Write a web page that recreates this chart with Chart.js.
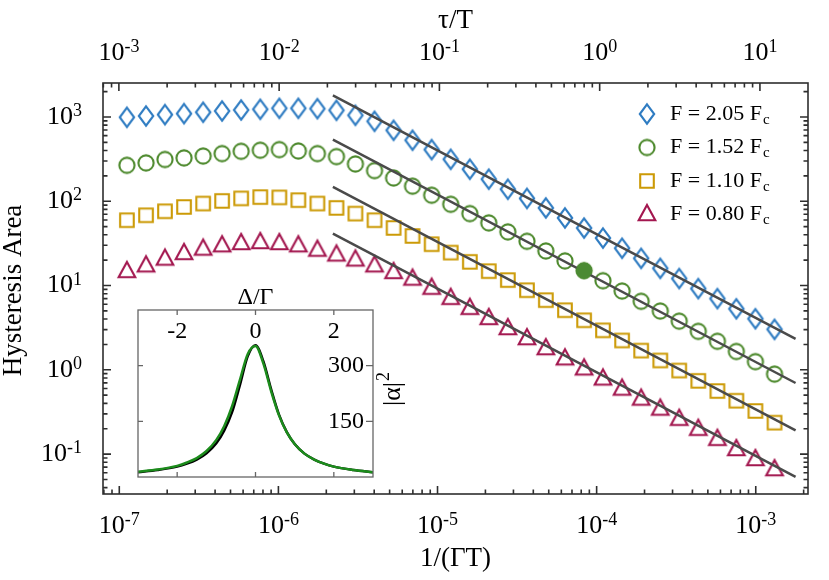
<!DOCTYPE html>
<html>
<head>
<meta charset="utf-8">
<title>Hysteresis area</title>
<script src="https://cdn.jsdelivr.net/npm/chart.js@4.4.0/dist/chart.umd.min.js"></script>
<style>
    html, body { margin: 0; padding: 0; background: #fff; }
    #wrap { position: relative; width: 829px; height: 580px; }
    #main { position: absolute; left: 0; top: 0; }
    #inset { position: absolute; left: 130px; top: 285px; }
</style>
</head>
<body>
<div id="wrap">
    <canvas id="main" width="829" height="580"></canvas>
    <canvas id="inset" width="280" height="205"></canvas>
</div>
<script>
// 1/(ΓT) sample points, shared by every series
const gammaT = [
    1.117e-7, 1.472e-7, 1.936e-7, 2.553e-7, 3.365e-7, 4.426e-7, 5.834e-7, 7.691e-7,
    1.014e-6, 1.334e-6, 1.758e-6, 2.317e-6, 3.048e-6, 4.018e-6, 5.297e-6, 6.966e-6,
    9.183e-6, 1.211e-5, 1.596e-5, 2.099e-5, 2.767e-5, 3.648e-5, 4.797e-5, 6.324e-5,
    8.337e-5, 1.096e-4, 1.445e-4, 1.905e-4, 2.512e-4, 3.304e-4, 4.355e-4, 5.741e-4,
    7.551e-4, 9.954e-4, 1.312e-3
];

// hysteresis area for each drive strength
const areaF205 = [
    991, 1028, 1067, 1096, 1138, 1178, 1211, 1233, 1268, 1268, 1256, 1200,
    1047, 889, 695, 530, 410, 315, 240, 183, 139, 108, 83.4, 63.4,
    48.1, 36.6, 27.7, 21.0, 16.0, 12.1, 9.2, 7.0, 5.3, 4.04, 3.02
];
const areaF152 = [
    267, 285, 313, 327, 344, 368, 392, 403, 410, 395, 368, 339,
    277, 231, 189, 151, 118, 92, 71.4, 55.3, 43.3, 33.5, 25.7, 19.6,
    15.0, 11.4, 8.6, 6.5, 4.98, 3.78, 2.86, 2.18, 1.65, 1.25, 0.89
];
const areaF110 = [
    59.6, 68.2, 76.0, 85.5, 94.0, 101, 108, 112, 111, 103, 94.0, 83.4,
    71.4, 59.6, 48.2, 38.7, 30.9, 24.6, 19.1, 14.8, 11.6, 8.8, 6.7, 5.09,
    3.87, 2.94, 2.23, 1.69, 1.29, 0.98, 0.74, 0.56, 0.43, 0.325, 0.236
];
const areaF080 = [
    14.9, 17.4, 20.9, 24.4, 27.5, 30.1, 32.0, 32.9, 32.0, 30.1, 26.7, 23.4,
    20.4, 17.4, 14.5, 12.1, 9.44, 7.16, 5.44, 4.13, 3.13, 2.38, 1.81, 1.37,
    1.04, 0.79, 0.60, 0.456, 0.347, 0.263, 0.200, 0.152, 0.115, 0.0875, 0.0664
];
const markedIndex = 24;   // filled point on the F = 1.52 Fc series

// power-law guide lines (end points)
const fitX = [2.2e-6, 1.78e-3];
const fitF205 = [1807, 2.33];
const fitF152 = [540, 0.697];
const fitF110 = [148, 0.191];
const fitF080 = [41.4, 0.0535];

const legendLabels = ['F = 2.05 F', 'F = 1.52 F', 'F = 1.10 F', 'F = 0.80 F'];

const xRange = [7.9e-8, 2.13e-3];
const tauRange = [7.96e-4, 19.95];
const yRange = [0.0336, 2530];

// inset: |α|² against Δ/Γ
const detuning = [-3, -2.5, -2, -1.75, -1.5, -1.25, -1, -0.8, -0.6, -0.4, -0.2, 0,
    0.2, 0.4, 0.6, 0.8, 1, 1.25, 1.5, 1.75, 2, 2.5, 3];
const alphaBlack = [13, 19, 28, 36, 47, 64, 91, 125, 174, 247, 325, 355,
    312, 236, 168, 121, 89, 63, 47, 36, 28, 19, 13];
const alphaGreen = [14, 20, 30, 39, 51, 70, 100, 137, 190, 261, 331, 353,
    306, 231, 166, 120, 89, 63, 47, 36, 28, 19, 13];
const insetXTicks = [-2, 0, 2];
const insetYTicks = [150, 300];

const SERIF = "'Liberation Serif', 'Times New Roman', serif";
const AXIS = '#2e2e2e';
const COLORS = ['#2f7cc2', '#4e8a2e', '#cc9a06', '#a3174f'];

function makeMarker(shape, color) {
    const c = document.createElement('canvas');
    c.width = 26;
    c.height = 26;
    const g = c.getContext('2d');
    g.strokeStyle = color;
    g.lineWidth = 2.1;
    g.lineJoin = 'miter';
    g.beginPath();
    if (shape === 'diamond') {
        g.moveTo(13, 3.3); g.lineTo(20.2, 13); g.lineTo(13, 22.7); g.lineTo(5.8, 13); g.closePath();
    } else if (shape === 'circle') {
        g.arc(13, 13, 7.6, 0, Math.PI * 2);
    } else if (shape === 'square') {
        g.rect(6.2, 6.2, 13.6, 13.6);
    } else {
        g.moveTo(13, 4); g.lineTo(21.3, 19.3); g.lineTo(4.7, 19.3); g.closePath();
    }
    g.stroke();
    return c;
}

const markers = [
    makeMarker('diamond', COLORS[0]),
    makeMarker('circle', COLORS[1]),
    makeMarker('square', COLORS[2]),
    makeMarker('triangle', COLORS[3])
];

function pairs(xs, ys) {
    return xs.map((x, i) => ({ x: x, y: ys[i] }));
}

function decadeTicks(min, max) {
    const out = [];
    for (let e = Math.floor(Math.log10(min)); e <= Math.ceil(Math.log10(max)); e++) {
        for (let m = 1; m <= 9; m++) {
            const v = m * Math.pow(10, e);
            if (v >= min && v <= max) out.push({ v: v, e: e, major: m === 1 });
        }
    }
    return out;
}

// "10" with a raised exponent
function powLabel(ctx, e, x, y, align) {
    ctx.font = '26px ' + SERIF;
    const wb = ctx.measureText('10').width;
    ctx.font = '18px ' + SERIF;
    const sup = String(e);
    const ws = ctx.measureText(sup).width;
    const left = align === 'right' ? x - wb - ws : x - (wb + ws) / 2;
    ctx.textAlign = 'left';
    ctx.textBaseline = 'middle';
    ctx.font = '26px ' + SERIF;
    ctx.fillText('10', left, y);
    ctx.font = '18px ' + SERIF;
    ctx.fillText(sup, left + wb, y - 5.5);
}

const mainDecor = {
    id: 'mainDecor',
    afterDraw(chart) {
        const ctx = chart.ctx;
        const a = chart.chartArea;
        const xs = chart.scales.x;
        const xt = chart.scales.x2;
        const ys = chart.scales.y;
        ctx.save();
        ctx.strokeStyle = AXIS;
        ctx.fillStyle = '#000';
        ctx.lineWidth = 1.6;
        ctx.strokeRect(a.left, a.top, a.right - a.left, a.bottom - a.top);

        ctx.beginPath();
        decadeTicks(xRange[0], xRange[1]).forEach(t => {
            const px = xs.getPixelForValue(t.v);
            const len = t.major ? 8 : 4.5;
            ctx.moveTo(px, a.bottom); ctx.lineTo(px, a.bottom - len);
        });
        decadeTicks(tauRange[0], tauRange[1]).forEach(t => {
            const px = xt.getPixelForValue(t.v);
            const len = t.major ? 8 : 4.5;
            ctx.moveTo(px, a.top); ctx.lineTo(px, a.top + len);
        });
        decadeTicks(yRange[0], yRange[1]).forEach(t => {
            const py = ys.getPixelForValue(t.v);
            const len = t.major ? 8 : 4.5;
            ctx.moveTo(a.left, py); ctx.lineTo(a.left + len, py);
            ctx.moveTo(a.right, py); ctx.lineTo(a.right - len, py);
        });
        ctx.stroke();

        // tick labels
        decadeTicks(xRange[0], xRange[1]).filter(t => t.major).forEach(t => {
            powLabel(ctx, t.e, xs.getPixelForValue(t.v), 526, 'center');
        });
        decadeTicks(tauRange[0], tauRange[1]).filter(t => t.major).forEach(t => {
            powLabel(ctx, t.e, xt.getPixelForValue(t.v), 53, 'center');
        });
        decadeTicks(yRange[0], yRange[1]).filter(t => t.major).forEach(t => {
            powLabel(ctx, t.e, 82, ys.getPixelForValue(t.v), 'right');
        });

        // axis titles
        ctx.font = '27px ' + SERIF;
        ctx.textAlign = 'center';
        ctx.textBaseline = 'middle';
        ctx.fillText('1/(ΓT)', (a.left + a.right) / 2, 559);
        ctx.fillText('τ/T', (a.left + a.right) / 2, 21);
        ctx.save();
        ctx.translate(21, (a.top + a.bottom) / 2 + 2);
        ctx.rotate(-Math.PI / 2);
        ctx.textBaseline = 'alphabetic';
        ctx.fillText('Hysteresis Area', 0, 0);
        ctx.restore();

        // legend
        const rowY = [114, 147.5, 181, 214];
        legendLabels.forEach((label, i) => {
            const m = markers[i];
            ctx.drawImage(m, 647 - m.width / 2, rowY[i] - m.height / 2);
            ctx.textAlign = 'left';
            ctx.textBaseline = 'middle';
            ctx.font = '22px ' + SERIF;
            ctx.fillText(label, 670, rowY[i]);
            const w = ctx.measureText(label).width;
            ctx.font = '15px ' + SERIF;
            ctx.fillText('c', 670 + w + 1, rowY[i] + 6);
        });
        ctx.restore();
    }
};

const seriesData = [areaF205, areaF152, areaF110, areaF080];
const fitData = [fitF205, fitF152, fitF110, fitF080];

const datasets = [];
datasets.push({
    label: 'marked',
    data: [{ x: gammaT[markedIndex], y: areaF152[markedIndex] }],
    showLine: false,
    pointStyle: 'circle',
    pointRadius: 7.6,
    pointBackgroundColor: '#4b8a33',
    pointBorderColor: '#4b8a33',
    order: -1
});
fitData.forEach(f => {
    datasets.push({
        data: pairs(fitX, f),
        showLine: true,
        borderColor: '#4a4a4a',
        borderWidth: 2.5,
        pointRadius: 0,
        order: 0
    });
});
seriesData.forEach((s, i) => {
    datasets.push({
        label: legendLabels[i],
        data: pairs(gammaT, s),
        showLine: false,
        pointStyle: markers[i],
        pointRadius: 8,
        order: 1
    });
});

new Chart(document.getElementById('main'), {
    type: 'scatter',
    data: { datasets: datasets },
    options: {
        responsive: false,
        animation: false,
        layout: { padding: { left: 103, top: 83, right: 21, bottom: 86 } },
        plugins: { legend: { display: false }, tooltip: { enabled: false } },
        scales: {
            x: { type: 'logarithmic', min: xRange[0], max: xRange[1], display: false },
            x2: { type: 'logarithmic', axis: 'x', position: 'top', min: tauRange[0], max: tauRange[1], display: false },
            y: { type: 'logarithmic', min: yRange[0], max: yRange[1], display: false }
        }
    },
    plugins: [mainDecor]
});

// ---- inset ----
const insetDecor = {
    id: 'insetDecor',
    beforeDatasetsDraw(chart) {
        const ctx = chart.ctx;
        const a = chart.chartArea;
        ctx.save();
        ctx.fillStyle = '#fff';
        ctx.fillRect(a.left, a.top, a.right - a.left, a.bottom - a.top);
        ctx.restore();
    },
    afterDraw(chart) {
        const ctx = chart.ctx;
        const a = chart.chartArea;
        const xs = chart.scales.x;
        const ys = chart.scales.y;
        ctx.save();
        ctx.strokeStyle = '#666';
        ctx.lineWidth = 1.3;
        ctx.strokeRect(a.left, a.top, a.right - a.left, a.bottom - a.top);
        ctx.beginPath();
        insetXTicks.forEach(v => {
            const px = xs.getPixelForValue(v);
            ctx.moveTo(px, a.bottom); ctx.lineTo(px, a.bottom - 5);
            ctx.moveTo(px, a.top); ctx.lineTo(px, a.top + 5);
        });
        insetYTicks.forEach(v => {
            const py = ys.getPixelForValue(v);
            ctx.moveTo(a.left, py); ctx.lineTo(a.left + 5, py);
            ctx.moveTo(a.right, py); ctx.lineTo(a.right - 7, py);
        });
        ctx.stroke();

        ctx.fillStyle = '#000';
        ctx.font = '24px ' + SERIF;
        ctx.textBaseline = 'middle';
        ctx.textAlign = 'center';
        insetXTicks.forEach(v => {
            ctx.fillText(String(v), xs.getPixelForValue(v), a.top + 22);
        });
        ctx.textAlign = 'right';
        insetYTicks.forEach(v => {
            ctx.fillText(String(v), a.right - 9, ys.getPixelForValue(v));
        });
        ctx.textAlign = 'center';
        ctx.fillText('Δ/Γ', xs.getPixelForValue(0), a.top - 12);

        // rotated |α| with a raised 2
        ctx.save();
        ctx.translate(a.right + 27, (a.top + a.bottom) / 2 - 4);
        ctx.rotate(-Math.PI / 2);
        ctx.textBaseline = 'alphabetic';
        ctx.textAlign = 'left';
        ctx.font = '26px ' + SERIF;
        const wa = ctx.measureText('|α|').width;
        ctx.font = '18px ' + SERIF;
        const w2 = ctx.measureText('2').width;
        const start = -(wa + w2) / 2;
        ctx.font = '26px ' + SERIF;
        ctx.fillText('|α|', start, 0);
        ctx.font = '18px ' + SERIF;
        ctx.fillText('2', start + wa + 1, -11);
        ctx.restore();
        ctx.restore();
    }
};

new Chart(document.getElementById('inset'), {
    type: 'scatter',
    data: {
        datasets: [
            {
                data: pairs(detuning, alphaGreen),
                showLine: true,
                borderColor: '#1c8c1c',
                borderWidth: 2.5,
                pointRadius: 0,
                cubicInterpolationMode: 'monotone'
            },
            {
                data: pairs(detuning, alphaBlack),
                showLine: true,
                borderColor: '#000000',
                borderWidth: 2.5,
                pointRadius: 0,
                cubicInterpolationMode: 'monotone'
            }
        ]
    },
    options: {
        responsive: false,
        animation: false,
        layout: { padding: { left: 8, top: 25, right: 37, bottom: 13 } },
        plugins: { legend: { display: false }, tooltip: { enabled: false } },
        scales: {
            x: { type: 'linear', min: -3, max: 3, display: false },
            y: { type: 'linear', min: 0, max: 450, display: false }
        }
    },
    plugins: [insetDecor]
});
</script>
</body>
</html>
